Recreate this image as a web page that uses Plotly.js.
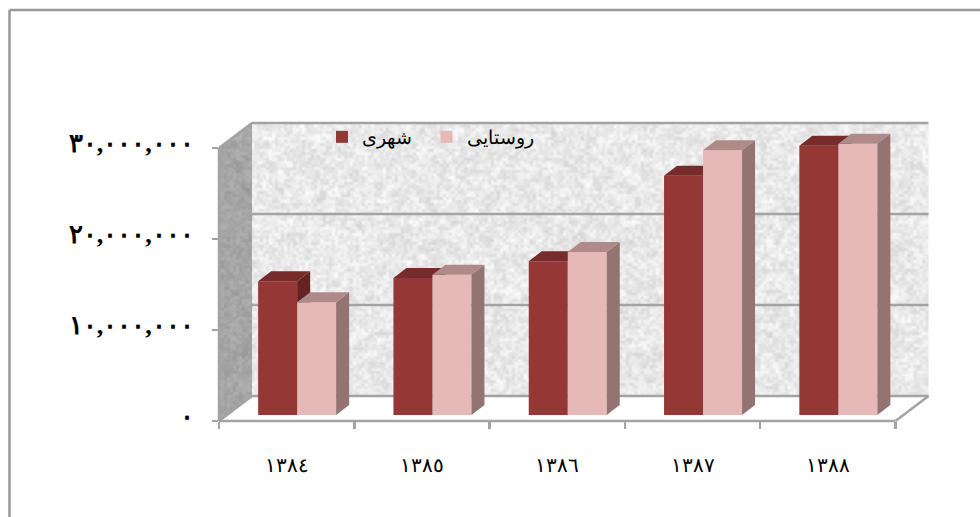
<!DOCTYPE html>
<html><head><meta charset="utf-8">
<script src="https://cdn.plot.ly/plotly-3.0.1.min.js"></script>
<style>html,body{margin:0;padding:0;background:#fff;overflow:hidden}#c{width:980px;height:517px}</style>
</head><body><div id="c"></div>
<script>
const years = [1384, 1385, 1386, 1387, 1388];
const yearLabels = ['١٣٨٤', '١٣٨٥', '١٣٨٦', '١٣٨٧', '١٣٨٨'];
const urban = [14700000, 15050000, 16900000, 26300000, 29600000];
const rural = [12400000, 15400000, 17900000, 29100000, 29800000];
const urbanName = 'شهری';
const ruralName = 'روستایی';
const yTickVals = [0, 10000000, 20000000, 30000000];
const yTickText = ['٠', '١٠,٠٠٠,٠٠٠', '٢٠,٠٠٠,٠٠٠', '٣٠,٠٠٠,٠٠٠'];

// scale: px per unit
const W = 716, H = 303, L = 219, T = 118;
const pxX = 135.3, pxY = 91 / 1e7;
const xR = [1383.5, 1383.5 + W / pxX], yR = [0, H / pxY];
const wallDX = 33 / pxX, wallDY = 25 / pxY;
const barW = 39 / pxX, barDX = 13 / pxX, barDY = 10 / pxY, base = 6 / pxY, shift = 10.5 / pxX;
const GRID = '#a3a3a3';
const px = v => (v - xR[0]) / (xR[1] - xR[0]);
const py = v => (v - yR[0]) / (yR[1] - yR[0]);

// stipple texture for the walls (deterministic hash, purely decorative)
function hash(i, j) { let s = Math.sin(i * 127.1 + j * 311.7) * 43758.5453; return s - Math.floor(s); }
const sm = t => t * t * (3 - 2 * t);
function vnoise(x, y, cell, seed) {
  const a = x / cell, b = y / cell, i = Math.floor(a), j = Math.floor(b), u = sm(a - i), v = sm(b - j);
  return (hash(i + seed, j) * (1 - u) + hash(i + 1 + seed, j) * u) * (1 - v) + (hash(i + seed, j + 1) * (1 - u) + hash(i + 1 + seed, j + 1) * u) * v;
}
function texture(w, h, baseGray, amp) {
  const c = document.createElement('canvas'); c.width = w; c.height = h;
  const g = c.getContext('2d'), im = g.createImageData(w, h);
  for (let y = 0; y < h; y++) for (let x = 0; x < w; x++) {
    const n = 0.6 * vnoise(x, y, 3, 0) + 0.4 * vnoise(x, y, 7, 900);
    const val = baseGray + amp * (n - 0.5) + 4 * (hash(x + 5000, y) - 0.5);
    const k = (x + y * w) * 4;
    im.data[k] = im.data[k + 1] = im.data[k + 2] = Math.max(0, Math.min(255, val));
    im.data[k + 3] = 255;
  }
  g.putImageData(im, 0, 0); return c.toDataURL('image/png');
}

function faces(values, xShift, kind) {
  const xs = [], ys = [];
  years.forEach((yr, i) => {
    const x0 = yr + xShift, x1 = x0 + barW, top = base + values[i];
    let pts;
    if (kind === 'top') pts = [[x0, top], [x1, top], [x1 + barDX, top + barDY], [x0 + barDX, top + barDY]];
    else pts = [[x1, base], [x1 + barDX, base + barDY], [x1 + barDX, top + barDY], [x1, top]];
    pts.concat([pts[0]]).forEach(p => { xs.push(p[0]); ys.push(p[1]); });
    xs.push(null); ys.push(null);
  });
  return { x: xs, y: ys };
}
function bar(name, vals, color, off, xa, ya) {
  return { type: 'bar', name, x: years, y: vals, base: base, width: barW, offset: off, xaxis: xa, yaxis: ya,
    marker: { color, line: { width: 0 } }, hoverinfo: 'skip' };
}
function face(vals, off, kind, color, xa, ya) {
  const f = faces(vals, off, kind);
  return { type: 'scatter', mode: 'lines', x: f.x, y: f.y, fill: 'toself', fillcolor: color, line: { width: 0, color },
    showlegend: false, hoverinfo: 'skip', xaxis: xa, yaxis: ya };
}
const off1 = shift - barW, off2 = shift;
const data = [
  bar(urbanName + '\u00a0\u00a0', urban, '#953735', off1, 'x', 'y'),
  face(urban, off1, 'side', '#642322', 'x', 'y'),
  face(urban, off1, 'top', '#772b2a', 'x', 'y'),
  bar(ruralName, rural, '#e6b9b8', off2, 'x2', 'y2'),
  face(rural, off2, 'side', '#947473', 'x2', 'y2'),
  face(rural, off2, 'top', '#ae8a88', 'x2', 'y2')
];

const line = (x0, y0, x1, y1, color, width) => ({ type: 'line', xref: 'paper', yref: 'paper', x0, y0, x1, y1, layer: 'below', line: { color: color || GRID, width: width || 2.5 } });
const poly = (pts, color) => ({ type: 'path', xref: 'paper', yref: 'paper', layer: 'below', fillcolor: color, line: { width: 0 },
  path: 'M' + pts.map(p => p[0] + ',' + p[1]).join('L') + 'Z' });

const xEnd = 1388.5, yTop = 30000000, xB = xR[0] + wallDX, xBE = xEnd + wallDX;
const shapes = [
  // masks turning the wall image into a parallelogram
  poly([[px(xR[0]), py(yTop)], [px(xB), py(yTop + wallDY)], [px(xR[0]), py(yTop + wallDY)]], '#ffffff'),
  poly([[px(xR[0]), 0], [px(xB), py(wallDY)], [px(xB), 0]], '#ffffff')
];
yTickVals.forEach(v => {
  shapes.push(line(px(xB), py(v + wallDY), px(xBE), py(v + wallDY)));
  shapes.push(line(px(xR[0]), py(v), px(xB), py(v + wallDY)));
});
shapes.push(line(px(xEnd), 0, px(xBE), py(wallDY)));
shapes.push(line(0, 0, px(xEnd), 0));
shapes.push(line(0, 0, 0, py(yTop)));
// outer chart frame
const fx = v => (v - L) / W, fy = v => (T + H - v) / H;
shapes.push(line(fx(9.5), fy(10), fx(980), fy(10), '#989898', 2.5));
shapes.push(line(fx(9.5), fy(10), fx(9.5), fy(517), '#989898', 2.5));

const images = [
  { source: texture(677, 273, 233, -42), xref: 'paper', yref: 'paper', x: px(xB), y: py(yTop + wallDY), sizex: px(xBE) - px(xB), sizey: py(yTop) , sizing: 'stretch', xanchor: 'left', yanchor: 'top', layer: 'below' },
  { source: texture(33, 298, 165, -30), xref: 'paper', yref: 'paper', x: 0, y: py(yTop + wallDY), sizex: px(xB), sizey: py(yTop + wallDY), sizing: 'stretch', xanchor: 'left', yanchor: 'top', layer: 'below' }
];
const FONT = '"Liberation Serif","DejaVu Serif","Times New Roman",serif';
const bounds = years.map(y => y - 0.5).concat([xEnd]);
const layout = {
  width: 980, height: 517, margin: { l: L, r: 980 - L - W, t: T, b: 517 - T - H, pad: 0 },
  paper_bgcolor: '#ffffff', plot_bgcolor: 'rgba(0,0,0,0)', barmode: 'overlay', showlegend: true,
  font: { family: FONT, color: '#000' },
  xaxis: { type: 'linear', range: xR, tickvals: years, ticktext: yearLabels, ticks: '', showgrid: false, zeroline: false, showline: false,
    ticklabelstandoff: 30, tickfont: { size: 20, family: FONT },
    minor: { tickvals: bounds, ticks: 'outside', ticklen: 7, tickwidth: 2.5, tickcolor: GRID, showgrid: false } },
  yaxis: { type: 'linear', range: yR, tickvals: yTickVals, ticktext: yTickText, ticks: 'outside', ticklen: 6, tickwidth: 2.5, tickcolor: GRID,
    showgrid: false, zeroline: false, showline: false, ticklabelstandoff: 13, ticklabelshift: -5, tickfont: { size: 26, family: FONT, weight: 'bold' } },
  xaxis2: { type: 'linear', range: xR, overlaying: 'x', visible: false },
  yaxis2: { type: 'linear', range: yR, overlaying: 'y', visible: false },
  legend: { orientation: 'h', x: fx(322), y: fy(118), xanchor: 'left', yanchor: 'top', bgcolor: 'rgba(0,0,0,0)', font: { size: 19, family: FONT, color: '#000' }, traceorder: 'normal' },
  shapes, images
};
Plotly.newPlot('c', data, layout, { displayModeBar: false, staticPlot: true });
</script></body></html>
